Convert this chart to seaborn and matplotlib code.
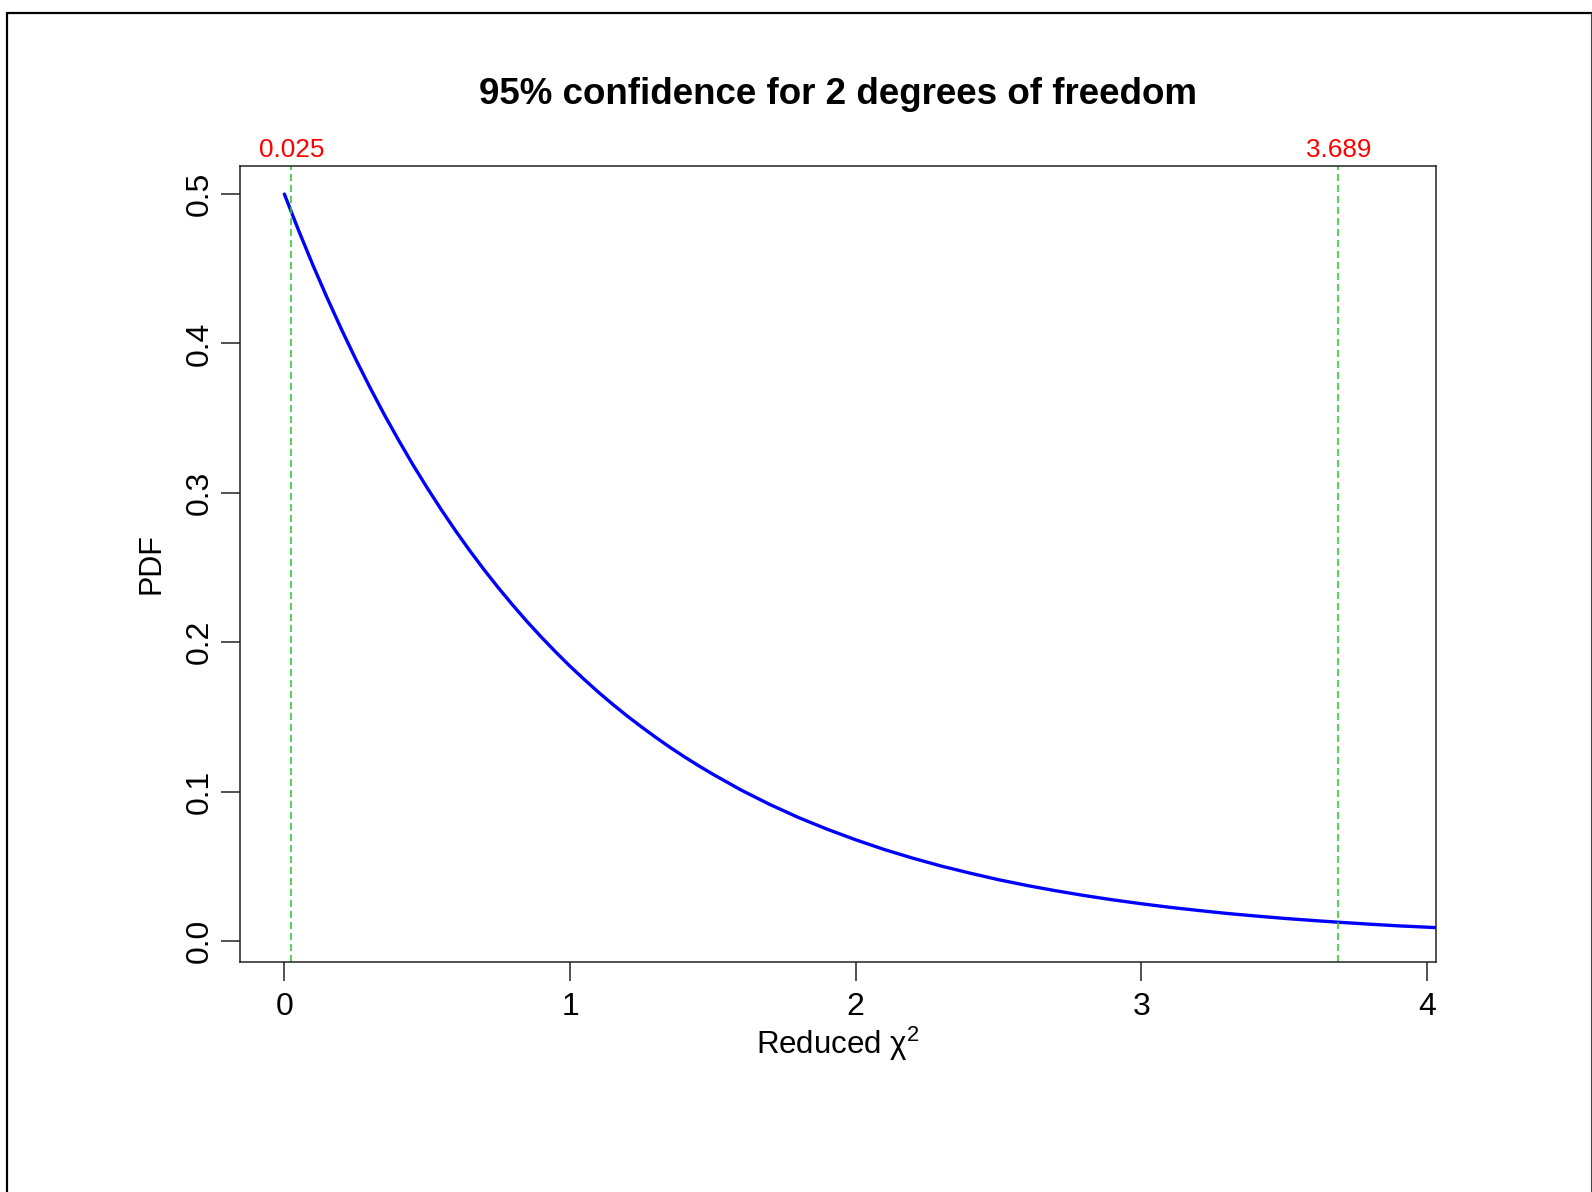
import matplotlib
matplotlib.use("Agg")
import matplotlib.pyplot as plt
import matplotlib.transforms as mtransforms
from matplotlib.lines import Line2D
import pandas as pd
import seaborn as sns

# Reduced chi-square density, 2 degrees of freedom
chi2_red = [0.00, 0.05, 0.10, 0.15, 0.20, 0.25, 0.30, 0.35, 0.40, 0.45,
            0.50, 0.55, 0.60, 0.65, 0.70, 0.75, 0.80, 0.85, 0.90, 0.95,
            1.00, 1.05, 1.10, 1.15, 1.20, 1.25, 1.30, 1.35, 1.40, 1.45,
            1.50, 1.6, 1.7, 1.8, 1.9, 2.0, 2.1, 2.2, 2.3, 2.4,
            2.5, 2.6, 2.7, 2.8, 2.9, 3.0, 3.1, 3.2, 3.3, 3.4,
            3.5, 3.6, 3.7, 3.8, 3.9, 4.0, 4.03]
pdf_vals = [0.5000, 0.4756, 0.4524, 0.4304, 0.4094, 0.3894, 0.3704, 0.3523, 0.3352, 0.3188,
            0.3033, 0.2885, 0.2744, 0.2610, 0.2483, 0.2362, 0.2247, 0.2137, 0.2033, 0.1934,
            0.1839, 0.1750, 0.1664, 0.1583, 0.1506, 0.1433, 0.1363, 0.1296, 0.1233, 0.1173,
            0.1116, 0.1009, 0.0913, 0.0826, 0.0748, 0.0677, 0.0612, 0.0554, 0.0501, 0.0454,
            0.0410, 0.0371, 0.0336, 0.0304, 0.0275, 0.0249, 0.0225, 0.0204, 0.0184, 0.0167,
            0.0151, 0.0137, 0.0124, 0.0112, 0.0101, 0.0092, 0.0089]

# Confidence bounds
bounds = [0.025, 3.689]
bound_labels = ["0.025", "3.689"]

x_ticks = [0, 1, 2, 3, 4]
y_ticks = [0.0, 0.1, 0.2, 0.3, 0.4, 0.5]
y_tick_labels = ["0.0", "0.1", "0.2", "0.3", "0.4", "0.5"]

sns.set_theme(style="white")
plt.rcParams["font.family"] = ["Liberation Sans", "DejaVu Sans"]
plt.rcParams["mathtext.fontset"] = "custom"
plt.rcParams["mathtext.rm"] = "Liberation Sans"
plt.rcParams["mathtext.it"] = "Liberation Sans"
plt.rcParams["axes.edgecolor"] = "#222222"
plt.rcParams["axes.linewidth"] = 1.1
plt.rcParams["text.color"] = "black"
plt.rcParams["axes.labelcolor"] = "black"
plt.rcParams["xtick.color"] = "black"
plt.rcParams["ytick.color"] = "black"

fig = plt.figure(figsize=(15.92, 11.92), dpi=100)
ax = fig.add_axes([0.1508, 0.1927, 0.9018 - 0.1508, 0.861 - 0.1927])

df = pd.DataFrame({"x": chi2_red, "pdf": pdf_vals})
sns.lineplot(data=df, x="x", y="pdf", ax=ax, color="#0000FF", linewidth=2.4,
             estimator=None, sort=False)

for b in bounds:
    ax.axvline(b, color="#22CC22", linewidth=1.1, linestyle=(0, (4.6, 2.6)))

ax.set_xlim(-0.155, 4.03)
ax.set_ylim(-0.0143, 0.519)

ax.set_xticks(x_ticks)
ax.set_xticklabels([str(t) for t in x_ticks])
ax.set_yticks(y_ticks)
ax.set_yticklabels(y_tick_labels, rotation=90, va="center")

ax.tick_params(axis="both", which="major", direction="out", length=13.7,
               width=1.1, color="#222222", labelsize=23, bottom=True, left=True)
ax.tick_params(axis="x", pad=7.5)
ax.tick_params(axis="y", pad=4.5)

ax.set_xlabel(r"Reduced $\mathregular{\chi^{2}}$", fontsize=22.5, labelpad=2)
ax.set_ylabel("PDF", fontsize=22, labelpad=13)

ax.set_title("95% confidence for 2 degrees of freedom", fontsize=26.5,
             fontweight="bold", pad=44.5)

trans = mtransforms.blended_transform_factory(ax.transData, ax.transAxes)
for b, lab in zip(bounds, bound_labels):
    ax.annotate(lab, xy=(b, 1.0), xycoords=trans, xytext=(0, 6.5),
                textcoords="offset points", ha="center", va="baseline",
                color="#FF0000", fontsize=18.8)

# Outer frame around the figure
W, H = 1592.0, 1192.0
fig.add_artist(Line2D([7 / W, 7 / W], [0, 1 - 12.5 / H], transform=fig.transFigure,
                      color="black", linewidth=1.6))
fig.add_artist(Line2D([7 / W, 1591.5 / W], [1 - 12.5 / H, 1 - 12.5 / H],
                      transform=fig.transFigure, color="black", linewidth=1.6))
fig.add_artist(Line2D([1591.3 / W, 1591.3 / W], [0, 1 - 12.5 / H],
                      transform=fig.transFigure, color="#444444", linewidth=0.8))

fig.savefig("out.png", dpi=100, facecolor="white")
